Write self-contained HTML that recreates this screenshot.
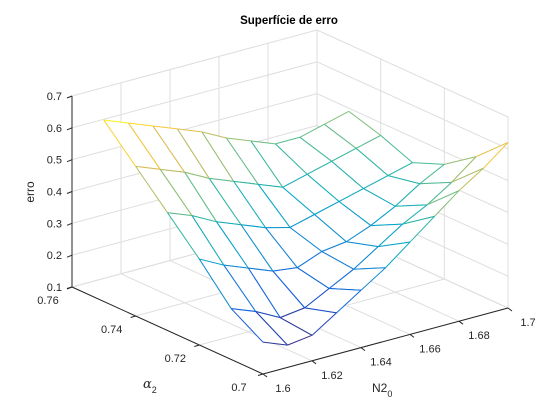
<!DOCTYPE html>
<html><head><meta charset="utf-8"><style>
html,body{margin:0;padding:0;background:#fff;}
svg{display:block;font-family:"Liberation Sans",Arial,sans-serif;}
</style></head><body>
<svg id="chart" width="560" height="420" viewBox="0 0 560 420" xmlns="http://www.w3.org/2000/svg">
<rect x="0" y="0" width="560" height="420" fill="#fff"/>
<g id="grid"></g>
<g id="axes"></g>
<g id="mesh"></g>
<text x="289" y="24" text-anchor="middle" font-size="11.5" font-weight="bold" fill="#000">Superfície de erro</text>
<text x="0" y="0" transform="translate(34,192) rotate(-90)" text-anchor="middle" font-size="12" fill="#262626">erro</text>
<text x="143" y="388" font-size="13" fill="#262626" font-family="'DejaVu Serif',serif" font-style="italic">α<tspan font-size="9" dy="5" font-style="normal" font-family="'Liberation Sans',sans-serif">2</tspan></text>
<text x="372" y="392" font-size="12" fill="#262626">N2<tspan font-size="9" dy="5">0</tspan></text>
</svg>
<script>
const xs = [1.60,1.61,1.62,1.63,1.64,1.65,1.66,1.67,1.68,1.69,1.70];
const ys = [0.70,0.71,0.72,0.73,0.74,0.75];
const zRow070 = [0.20,0.17,0.18,0.23,0.28,0.33,0.39,0.45,0.51,0.56,0.62];
const zRow071 = [0.26,0.23,0.19,0.20,0.24,0.28,0.33,0.38,0.42,0.47,0.53];
const zRow072 = [0.37,0.33,0.30,0.27,0.26,0.29,0.30,0.33,0.37,0.42,0.46];
const zRow073 = [0.47,0.44,0.40,0.37,0.34,0.32,0.34,0.36,0.38,0.40,0.42];
const zRow074 = [0.57,0.54,0.51,0.47,0.44,0.41,0.38,0.40,0.42,0.44,0.46];
const zRow075 = [0.67,0.64,0.61,0.58,0.55,0.51,0.48,0.45,0.45,0.47,0.49];
const Z = [zRow070,zRow071,zRow072,zRow073,zRow074,zRow075];
const xTicks = [1.60,1.62,1.64,1.66,1.68,1.70];
const xTickLabels = ["1.6","1.62","1.64","1.66","1.68","1.7"];
const yTicks = [0.70,0.72,0.74,0.76];
const yTickLabels = ["0.7","0.72","0.74","0.76"];
const zTicks = [0.1,0.2,0.3,0.4,0.5,0.6,0.7];
const zTickLabels = ["0.1","0.2","0.3","0.4","0.5","0.6","0.7"];

const XMIN=1.6,XMAX=1.7,YMIN=0.7,YMAX=0.76,ZMIN=0.1,ZMAX=0.7;
function P(x,y,z){
  const u=(x-XMIN)/(XMAX-XMIN), v=(y-YMIN)/(YMAX-YMIN), w=(z-ZMIN)/(ZMAX-ZMIN);
  return [263+245*u-191*v, 374-66*u-87*v-191*w];
}
const NS="http://www.w3.org/2000/svg";
function mk(tag,attrs,parent){const e=document.createElementNS(NS,tag);for(const k in attrs)e.setAttribute(k,attrs[k]);parent.appendChild(e);return e;}
const grid=document.getElementById('grid'),axes=document.getElementById('axes'),mesh=document.getElementById('mesh');
const GC="#dedede";
function seg(a,b,parent,color,w,name){
  const l=mk('line',{x1:a[0].toFixed(2),y1:a[1].toFixed(2),x2:b[0].toFixed(2),y2:b[1].toFixed(2),stroke:color,'stroke-width':w},parent);
  
  
  return l;
}
// floor grid
xTicks.forEach(x=>seg(P(x,YMIN,ZMIN),P(x,YMAX,ZMIN),grid,GC,1,'floor-grid-x'));
yTicks.forEach(y=>seg(P(XMIN,y,ZMIN),P(XMAX,y,ZMIN),grid,GC,1,'floor-grid-y'));
// back-left wall (y=YMAX)
xTicks.forEach(x=>seg(P(x,YMAX,ZMIN),P(x,YMAX,ZMAX),grid,GC,1,'wall-grid-x'));
zTicks.forEach(z=>seg(P(XMIN,YMAX,z),P(XMAX,YMAX,z),grid,GC,1,'wall-grid-z'));
// back-right wall (x=XMAX)
yTicks.forEach(y=>seg(P(XMAX,y,ZMIN),P(XMAX,y,ZMAX),grid,GC,1,'wall-grid-y'));
zTicks.forEach(z=>seg(P(XMAX,YMIN,z),P(XMAX,YMAX,z),grid,GC,1,'wall-grid-z'));
// axes
const AC="#262626";
seg(P(XMIN,YMIN,ZMIN),P(XMAX,YMIN,ZMIN),axes,AC,1,'x-axis-line');
seg(P(XMIN,YMIN,ZMIN),P(XMIN,YMAX,ZMIN),axes,AC,1,'y-axis-line');
seg(P(XMIN,YMAX,ZMIN),P(XMIN,YMAX,ZMAX),axes,AC,1,'z-axis-line');
function label(txt,x,y,anchor,name){
  const t=mk('text',{x:x.toFixed(1),y:y.toFixed(1),'text-anchor':anchor,'font-size':11,fill:AC},axes);
  t.textContent=txt;
  
  
}
xTicks.forEach((x,i)=>{const p=P(x,YMIN,ZMIN);seg(p,[p[0]+4,p[1]+3],axes,AC,1,'x-tick');label(xTickLabels[i],p[0]+20,p[1]+18,'middle','x-tick-label');});
yTicks.forEach((y,i)=>{const p=P(XMIN,y,ZMIN);seg(p,[p[0]-5,p[1]+1.5],axes,AC,1,'y-tick');label(yTickLabels[i],p[0]-24,p[1]+17,'middle','y-tick-label');});
zTicks.forEach((z,i)=>{const p=P(XMIN,YMAX,z);seg(p,[p[0]-5,p[1]+2],axes,AC,1,'z-tick');label(zTickLabels[i],p[0]-10,p[1]+4,'end','z-tick-label');});

// parula colormap
const stops=[[0,[53,42,135]],[0.125,[15,92,221]],[0.25,[20,129,214]],[0.375,[6,164,202]],[0.5,[46,183,164]],[0.625,[135,191,119]],[0.75,[209,187,89]],[0.875,[254,200,50]],[1,[249,251,14]]];
let zmin=Infinity,zmax=-Infinity;Z.forEach(r=>r.forEach(v=>{zmin=Math.min(zmin,v);zmax=Math.max(zmax,v);}));
function cmap(z){
  let t=(z-zmin)/(zmax-zmin);t=Math.max(0,Math.min(1,t));
  for(let i=1;i<stops.length;i++){if(t<=stops[i][0]){const a=stops[i-1],b=stops[i];const f=(t-a[0])/(b[0]-a[0]);
    return 'rgb('+[0,1,2].map(k=>Math.round(a[1][k]+(b[1][k]-a[1][k])*f)).join(',')+')';}}
  return 'rgb(249,251,14)';
}
// quads, painter order (far first)
const quads=[];
for(let j=0;j<ys.length-1;j++)for(let i=0;i<xs.length-1;i++){
  const u=((xs[i]+xs[i+1])/2-XMIN)/(XMAX-XMIN), v=((ys[j]+ys[j+1])/2-YMIN)/(YMAX-YMIN);
  quads.push({i,j,d:66*u+87*v});
}
quads.sort((a,b)=>b.d-a.d);
quads.forEach(q=>{
  const {i,j}=q;
  const c=[[i,j],[i+1,j],[i+1,j+1],[i,j+1]];
  const pts=c.map(([a,b])=>P(xs[a],ys[b],Z[b][a]));
  const poly=mk('polygon',{points:pts.map(p=>p[0].toFixed(2)+','+p[1].toFixed(2)).join(' '),fill:'#fff',stroke:'none'},mesh);
  
  
  for(let k=0;k<4;k++){
    const a=c[k],b=c[(k+1)%4];
    const zz=(Z[a[1]][a[0]]+Z[b[1]][b[0]])/2;
    seg(pts[k],pts[(k+1)%4],mesh,cmap(zz),1,'mesh-edge');
  }
});
</script>
</body></html>
